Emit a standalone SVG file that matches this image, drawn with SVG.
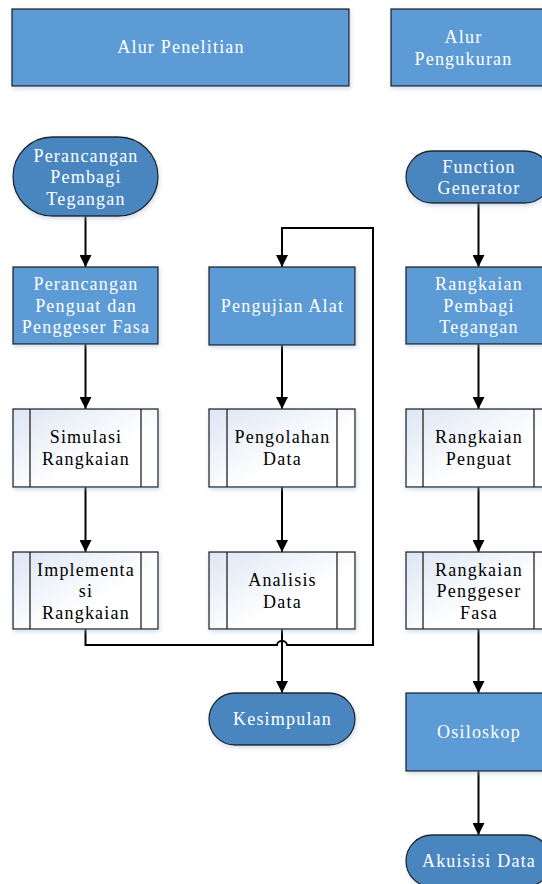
<svg xmlns="http://www.w3.org/2000/svg" width="542" height="884" viewBox="0 0 542 884">
<defs>
<linearGradient id="sub" x1="0" y1="0" x2="1" y2="1">
<stop offset="0" stop-color="#dde6f4"/>
<stop offset="0.6" stop-color="#ffffff"/>
</linearGradient>
<filter id="sh" x="-10%" y="-10%" width="130%" height="140%">
<feDropShadow dx="1" dy="2" stdDeviation="2" flood-color="#9db7d6" flood-opacity="0.5"/>
</filter>
<marker id="arr" viewBox="0 0 12 12" refX="12" refY="6" markerWidth="12" markerHeight="12" markerUnits="userSpaceOnUse" orient="auto">
<path d="M0,0 L12,6 L0,12 Z" fill="#000"/>
</marker>
<style>
.box{fill:#5b9bd5;stroke:#222;stroke-width:1.3;filter:url(#sh)}
.term{fill:#4a86bf;stroke:#222;stroke-width:1.3;filter:url(#sh)}
.sub{fill:url(#sub);stroke:#222;stroke-width:1.3;filter:url(#sh)}
.in{stroke:#222;stroke-width:1.3;fill:none}
text{font-size:18px;letter-spacing:1.2px;text-anchor:middle}
.w{fill:#ffffff}
.k{fill:#000000}
.c{fill:none;stroke:#000;stroke-width:2}
</style>
</defs>

<g id="connectors">
<path class="c" d="M85.5,216 V267" marker-end="url(#arr)"/>
<path class="c" d="M85.5,344 V409" marker-end="url(#arr)"/>
<path class="c" d="M85.5,487 V552" marker-end="url(#arr)"/>
<path class="c" d="M85.5,629 V645 H277 A5 4 0 0 1 287 645 H373 V228 H282 V267" marker-end="url(#arr)"/>
<path class="c" d="M282,344 V409" marker-end="url(#arr)"/>
<path class="c" d="M282,487 V552" marker-end="url(#arr)"/>
<path class="c" d="M282,629 V693" marker-end="url(#arr)"/>
<path class="c" d="M478.5,203 V267" marker-end="url(#arr)"/>
<path class="c" d="M478.5,344 V409" marker-end="url(#arr)"/>
<path class="c" d="M478.5,487 V552" marker-end="url(#arr)"/>
<path class="c" d="M478.5,629 V693" marker-end="url(#arr)"/>
<path class="c" d="M478.5,771 V835" marker-end="url(#arr)"/>
</g>

<g font-family="'Liberation Serif', Tinos, 'Times New Roman', 'DejaVu Serif', serif">
<g id="alur-penelitian">
<rect class="box" x="12" y="9" width="337" height="77"/>
<text class="w" x="181" y="53">Alur Penelitian</text>
</g>
<g id="alur-pengukuran">
<rect class="box" x="391" y="9" width="170" height="77"/>
<text class="w" x="463"><tspan x="463.5" y="43">Alur</tspan><tspan x="463.5" y="64.5">Pengukuran</tspan></text>
</g>

<g id="perancangan-pembagi">
<rect class="term" x="13" y="137" width="145" height="79" rx="39.5" ry="39.5"/>
<text class="w"><tspan x="86" y="161.5">Perancangan</tspan><tspan x="86" y="183">Pembagi</tspan><tspan x="86" y="204.5">Tegangan</tspan></text>
</g>
<g id="perancangan-penguat">
<rect class="box" x="13" y="267" width="145" height="77"/>
<text class="w"><tspan x="86" y="290">Perancangan</tspan><tspan x="86" y="311.5">Penguat dan</tspan><tspan x="86" y="333">Penggeser Fasa</tspan></text>
</g>
<g id="simulasi">
<rect class="sub" x="13" y="409" width="145" height="78"/>
<path class="in" d="M30,409 V487 M141,409 V487"/>
<text class="k"><tspan x="86" y="443">Simulasi</tspan><tspan x="86" y="465">Rangkaian</tspan></text>
</g>
<g id="implementasi">
<rect class="sub" x="13" y="552" width="145" height="77"/>
<path class="in" d="M30,552 V629 M141,552 V629"/>
<text class="k"><tspan x="86" y="575.5">Implementa</tspan><tspan x="86" y="597">si</tspan><tspan x="86" y="618.5">Rangkaian</tspan></text>
</g>

<g id="pengujian-alat">
<rect class="box" x="209" y="267" width="146" height="78"/>
<text class="w" x="282.5" y="312">Pengujian Alat</text>
</g>
<g id="pengolahan-data">
<rect class="sub" x="209" y="409" width="146" height="78"/>
<path class="in" d="M227,409 V487 M337,409 V487"/>
<text class="k"><tspan x="282.5" y="443">Pengolahan</tspan><tspan x="282.5" y="465">Data</tspan></text>
</g>
<g id="analisis-data">
<rect class="sub" x="209" y="552" width="146" height="77"/>
<path class="in" d="M227,552 V629 M337,552 V629"/>
<text class="k"><tspan x="282.5" y="586">Analisis</tspan><tspan x="282.5" y="607.5">Data</tspan></text>
</g>
<g id="kesimpulan">
<rect class="term" x="209" y="693" width="146" height="52" rx="26" ry="26"/>
<text class="w" x="282.5" y="725">Kesimpulan</text>
</g>

<g id="function-generator">
<rect class="term" x="406" y="151" width="145" height="52" rx="26" ry="26"/>
<text class="w"><tspan x="479" y="172.5">Function</tspan><tspan x="479" y="194">Generator</tspan></text>
</g>
<g id="rangkaian-pembagi">
<rect class="box" x="406" y="267" width="145" height="77"/>
<text class="w"><tspan x="479" y="290">Rangkaian</tspan><tspan x="479" y="311.5">Pembagi</tspan><tspan x="479" y="333">Tegangan</tspan></text>
</g>
<g id="rangkaian-penguat">
<rect class="sub" x="406" y="409" width="145" height="78"/>
<path class="in" d="M423,409 V487 M534,409 V487"/>
<text class="k"><tspan x="479" y="443">Rangkaian</tspan><tspan x="479" y="465">Penguat</tspan></text>
</g>
<g id="rangkaian-penggeser">
<rect class="sub" x="406" y="552" width="145" height="77"/>
<path class="in" d="M423,552 V629 M534,552 V629"/>
<text class="k"><tspan x="479" y="575.5">Rangkaian</tspan><tspan x="479" y="597">Penggeser</tspan><tspan x="479" y="618.5">Fasa</tspan></text>
</g>
<g id="osiloskop">
<rect class="box" x="406" y="693" width="145" height="78"/>
<text class="w" x="479" y="738">Osiloskop</text>
</g>
<g id="akuisisi-data">
<rect class="term" x="406" y="835" width="145" height="52" rx="26" ry="26"/>
<text class="w" x="479" y="867">Akuisisi Data</text>
</g>
</g>
</svg>
